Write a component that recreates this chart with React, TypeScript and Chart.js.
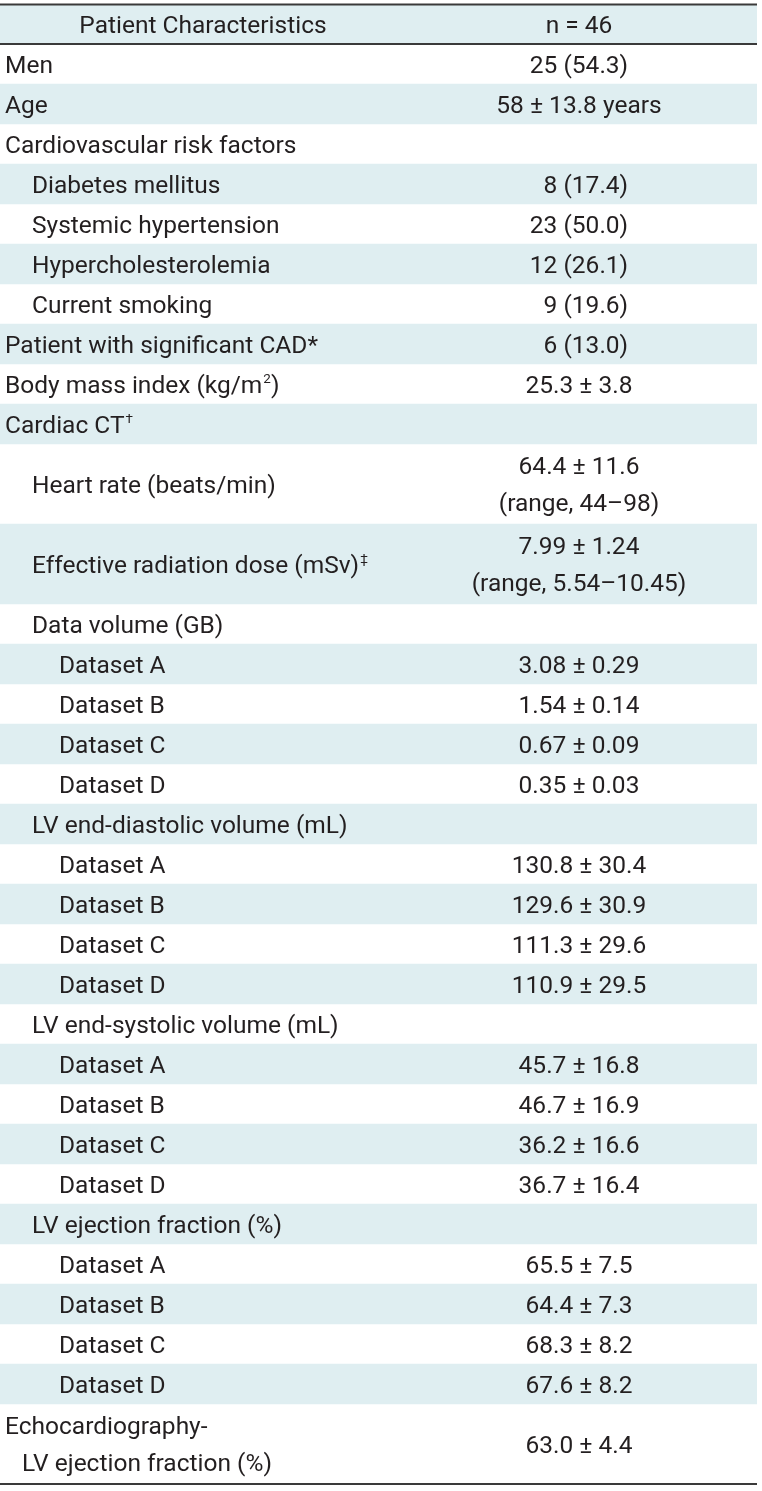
import { useEffect, useRef } from "react";
import { Chart, registerables } from "chart.js";

Chart.register(...registerables);

// ---------- data ----------
const headerLabels: string[] = ["Patient Characteristics", "n = 46"];

// label lines for each row; {x} marks superscript text
const rowLabels: string[][] = [
  ["Men"],
  ["Age"],
  ["Cardiovascular risk factors"],
  ["Diabetes mellitus"],
  ["Systemic hypertension"],
  ["Hypercholesterolemia"],
  ["Current smoking"],
  ["Patient with significant CAD*"],
  ["Body mass index (kg/m{2})"],
  ["Cardiac CT{\u2020}"],
  ["Heart rate (beats/min)"],
  ["Effective radiation dose (mSv){\u2021}"],
  ["Data volume (GB)"],
  ["Dataset A"],
  ["Dataset B"],
  ["Dataset C"],
  ["Dataset D"],
  ["LV end-diastolic volume (mL)"],
  ["Dataset A"],
  ["Dataset B"],
  ["Dataset C"],
  ["Dataset D"],
  ["LV end-systolic volume (mL)"],
  ["Dataset A"],
  ["Dataset B"],
  ["Dataset C"],
  ["Dataset D"],
  ["LV ejection fraction (%)"],
  ["Dataset A"],
  ["Dataset B"],
  ["Dataset C"],
  ["Dataset D"],
  ["Echocardiography-", "LV ejection fraction (%)"],
];

// hierarchy level of each row
const rowLevels: number[] = [
  0, 0, 0, 1, 1, 1, 1, 0, 0, 0, 1, 1, 1, 2, 2, 2, 2, 1, 2, 2, 2, 2, 1, 2, 2, 2, 2, 1, 2, 2, 2, 2, 0,
];

const rowValues: string[][] = [
  ["25 (54.3)"],
  ["58 \u00b1 13.8 years"],
  [],
  ["\u20078 (17.4)"],
  ["23 (50.0)"],
  ["12 (26.1)"],
  ["\u20079 (19.6)"],
  ["\u20076 (13.0)"],
  ["25.3 \u00b1 3.8"],
  [],
  ["64.4 \u00b1 11.6", "(range, 44\u201398)"],
  ["7.99 \u00b1 1.24", "(range, 5.54\u201310.45)"],
  [],
  ["3.08 \u00b1 0.29"],
  ["1.54 \u00b1 0.14"],
  ["0.67 \u00b1 0.09"],
  ["0.35 \u00b1 0.03"],
  [],
  ["130.8 \u00b1 30.4"],
  ["129.6 \u00b1 30.9"],
  ["111.3 \u00b1 29.6"],
  ["110.9 \u00b1 29.5"],
  [],
  ["45.7 \u00b1 16.8"],
  ["46.7 \u00b1 16.9"],
  ["36.2 \u00b1 16.6"],
  ["36.7 \u00b1 16.4"],
  [],
  ["65.5 \u00b1 7.5"],
  ["64.4 \u00b1 7.3"],
  ["68.3 \u00b1 8.2"],
  ["67.6 \u00b1 8.2"],
  ["63.0 \u00b1 4.4"],
];

// ---------- style ----------
const FONT_FAMILY = "Roboto, 'Noto Sans', sans-serif";
const FONT_SIZE = 24.5;
const TEXT_COLOR = "#231f20";
const SHADE_COLOR = "#dfeef1";
const RULE_COLOR = "#3a3a3a";

function parseRich(text: string) {
  const parts: { t: string; sup: boolean }[] = [];
  const re = /\{([^}]*)\}/g;
  let last = 0;
  let m: RegExpExecArray | null;
  while ((m = re.exec(text))) {
    if (m.index > last) parts.push({ t: text.slice(last, m.index), sup: false });
    parts.push({ t: m[1], sup: true });
    last = m.index + m[0].length;
  }
  if (last < text.length) parts.push({ t: text.slice(last), sup: false });
  return parts;
}

function drawRich(ctx: CanvasRenderingContext2D, text: string, x: number, y: number, align: "left" | "center") {
  const parts = parseRich(text);
  const norm = `${FONT_SIZE}px ${FONT_FAMILY}`;
  const sup = `${FONT_SIZE * 0.55}px ${FONT_FAMILY}`;
  let total = 0;
  for (const p of parts) {
    ctx.font = p.sup ? sup : norm;
    total += ctx.measureText(p.t).width + (p.sup ? 1 : 0);
  }
  let cx = align === "center" ? x - total / 2 : x;
  ctx.textAlign = "left";
  ctx.textBaseline = "alphabetic";
  for (const p of parts) {
    ctx.font = p.sup ? sup : norm;
    ctx.fillText(p.t, cx + (p.sup ? 1 : 0), p.sup ? y - FONT_SIZE * 0.38 : y);
    cx += ctx.measureText(p.t).width + (p.sup ? 1 : 0);
  }
}

export default function App() {
  const ref = useRef<HTMLCanvasElement | null>(null);

  useEffect(() => {
    document.body.style.margin = "0";
    const spans = rowLabels.map((l, i) => Math.max(1, l.length, rowValues[i].length));
    const starts: number[] = [];
    let u = 1;
    spans.forEach((s) => {
      starts.push(u);
      u += s;
    });
    const unitCount = u;
    const unitLabels: string[] = [];
    const shade: ([number, number] | null)[] = [];
    for (let k = 0; k < unitCount; k++) {
      unitLabels.push(`u${k}`);
      shade.push(null);
    }
    shade[0] = [0, 1];
    spans.forEach((s, r) => {
      if (r % 2 === 1) for (let k = 0; k < s; k++) shade[starts[r] + k] = [0, 1];
    });

    const tablePlugin = {
      id: "tableText",
      afterDatasetsDraw(chart: any) {
        const { ctx, chartArea, scales } = chart;
        const y = scales.y;
        const left = chartArea.left;
        const px = (k: number) => y.getPixelForValue(k);
        const baseOff = FONT_SIZE * 0.355;
        const lineGap = 37;
        const labelX = (lvl: number) => left + 5 + lvl * 27;
        const valueX = left + 579;
        ctx.save();
        ctx.fillStyle = TEXT_COLOR;
        // header
        const hc = px(0);
        drawRich(ctx, headerLabels[0], left + 203, hc + baseOff, "center");
        drawRich(ctx, headerLabels[1], valueX, hc + baseOff, "center");
        // rows
        rowLabels.forEach((lines, r) => {
          const c = (px(starts[r]) + px(starts[r] + spans[r] - 1)) / 2;
          lines.forEach((t, i) => {
            const yy = c + (i - (lines.length - 1) / 2) * lineGap + baseOff;
            drawRich(ctx, t, labelX(rowLevels[r]) + (i > 0 ? 17 : 0), yy, "left");
          });
          const vals = rowValues[r];
          vals.forEach((t, i) => {
            const yy = c + (i - (vals.length - 1) / 2) * lineGap + baseOff;
            drawRich(ctx, t, valueX, yy, "center");
          });
        });
        // rules
        ctx.strokeStyle = RULE_COLOR;
        ctx.lineWidth = 2;
        const hb = (px(0) + px(1)) / 2;
        [chartArea.top + 0.5, hb, chartArea.bottom].forEach((yy) => {
          ctx.beginPath();
          ctx.moveTo(chartArea.left, yy);
          ctx.lineTo(chartArea.right, yy);
          ctx.stroke();
        });
        ctx.restore();
      },
    };

    const chart = new Chart(ref.current as HTMLCanvasElement, {
      type: "bar",
      data: {
        labels: unitLabels,
        datasets: [
          {
            data: shade as any,
            backgroundColor: SHADE_COLOR,
            borderWidth: 0,
            categoryPercentage: 1,
            barPercentage: 1,
          },
        ],
      },
      options: {
        indexAxis: "y",
        animation: false,
        responsive: true,
        maintainAspectRatio: false,
        layout: { padding: { top: 4, bottom: 7, left: 0, right: 5 } },
        plugins: { legend: { display: false }, tooltip: { enabled: false } },
        scales: {
          x: { type: "linear", min: 0, max: 1, display: false },
          y: { type: "category", display: false, offset: true },
        },
      },
      plugins: [tablePlugin],
    });
    return () => chart.destroy();
  }, []);

  return (
    <div style={{ width: 762, height: 1491, position: "relative" }}>
      <canvas ref={ref} />
    </div>
  );
}
